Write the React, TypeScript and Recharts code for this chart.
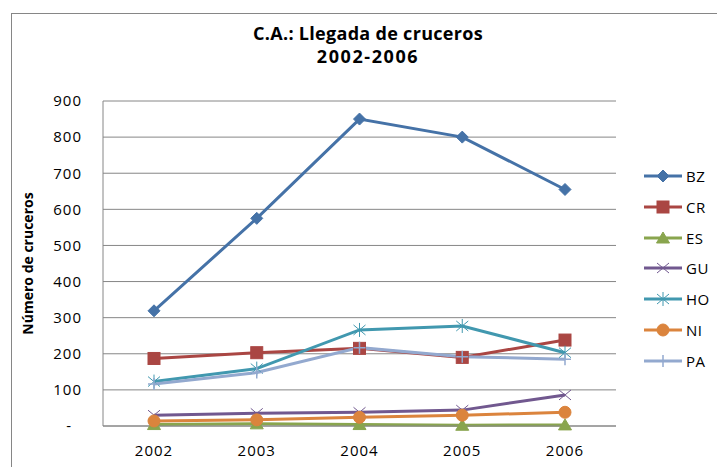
import React from 'react';
import { LineChart, Line, XAxis, YAxis, CartesianGrid } from 'recharts';

const years = ['2002', '2003', '2004', '2005', '2006'];
const BZ = [319, 575, 850, 800, 655];
const CR = [187, 203, 215, 190, 238];
const ES = [4, 6, 4, 2, 3];
const GU = [30, 35, 38, 44, 86];
const HO = [123, 159, 266, 277, 203];
const NI = [14, 17, 24, 30, 38];
const PA = [116, 148, 217, 192, 185];
const yTicks = [0, 100, 200, 300, 400, 500, 600, 700, 800, 900];

const seriesList = [
  { key: 'BZ', values: BZ, color: '#4572A7', marker: 'diamond' },
  { key: 'CR', values: CR, color: '#AA4643', marker: 'square' },
  { key: 'ES', values: ES, color: '#89A54E', marker: 'triangle' },
  { key: 'GU', values: GU, color: '#71588F', marker: 'x' },
  { key: 'HO', values: HO, color: '#4198AF', marker: 'star' },
  { key: 'NI', values: NI, color: '#DB843D', marker: 'circle' },
  { key: 'PA', values: PA, color: '#93A9CF', marker: 'plus' },
];

const data = years.map((y, i) => {
  const row: any = { year: y };
  seriesList.forEach((s) => (row[s.key] = s.values[i]));
  return row;
});

const FONT = '"Open Sans", "DejaVu Sans", sans-serif';

function Marker({ type, cx, cy, color }: { type: string; cx: number; cy: number; color: string }) {
  switch (type) {
    case 'diamond':
      return <path d={`M${cx},${cy - 6}L${cx + 6},${cy}L${cx},${cy + 6}L${cx - 6},${cy}Z`} fill={color} stroke={color} />;
    case 'square':
      return <rect x={cx - 6} y={cy - 6} width={12} height={12} fill={color} stroke={color} />;
    case 'triangle':
      return <path d={`M${cx},${cy - 6}L${cx + 6.5},${cy + 5}L${cx - 6.5},${cy + 5}Z`} fill={color} stroke={color} />;
    case 'x':
      return (
        <path d={`M${cx - 6},${cy - 5}L${cx + 6},${cy + 5}M${cx - 6},${cy + 5}L${cx + 6},${cy - 5}`} stroke={color} strokeWidth={1} fill="none" />
      );
    case 'star':
      return (
        <path
          d={`M${cx - 6},${cy - 5}L${cx + 6},${cy + 5}M${cx - 6},${cy + 5}L${cx + 6},${cy - 5}M${cx},${cy - 7}L${cx},${cy + 7}`}
          stroke={color}
          strokeWidth={1}
          fill="none"
        />
      );
    case 'circle':
      return <circle cx={cx} cy={cy} r={6} fill={color} stroke={color} />;
    case 'plus':
      return <path d={`M${cx},${cy - 6}L${cx},${cy + 6}M${cx - 6},${cy}L${cx + 6},${cy}`} stroke={color} strokeWidth={1.5} fill="none" />;
    default:
      return null;
  }
}

const makeDot = (type: string, color: string) => (props: any) => {
  const { cx, cy, index } = props;
  if (cx == null || cy == null) return <g key={index} />;
  return (
    <g key={`${type}-${index}`}>
      <Marker type={type} cx={cx} cy={cy} color={color} />
    </g>
  );
};

const YTick = (props: any) => {
  const { x, y, payload } = props;
  const v = payload.value;
  return (
    <text
      x={v === 0 ? x - 10 : x}
      y={y}
      dy="0.355em"
      textAnchor="end"
      fontSize={15}
      letterSpacing={1}
      fontFamily={FONT}
      fill="#000"
    >
      {v === 0 ? '-' : v}
    </text>
  );
};

export default function App() {
  return (
    <div style={{ position: 'fixed', left: 0, top: 0, width: 717, height: 467, overflow: 'hidden', background: '#fff' }}>
      <div
        style={{
          position: 'absolute',
          left: 11,
          top: 13,
          width: 900,
          height: 700,
          border: '1px solid #868686',
          boxSizing: 'border-box',
        }}
      />
      <div
        style={{
          position: 'absolute',
          left: 0,
          top: 22,
          width: 736,
          textAlign: 'center',
          fontFamily: FONT,
          fontWeight: 700,
          fontSize: 18,
          lineHeight: '23px',
          color: '#000',
        }}
      >
        <div style={{ letterSpacing: 0.3 }}>C.A.: Llegada de cruceros</div>
        <div style={{ letterSpacing: 1.6 }}>2002-2006</div>
      </div>
      <div style={{ position: 'absolute', left: 0, top: 0 }}>
        <LineChart width={717} height={467} data={data} margin={{ top: 101, right: 101, left: 0, bottom: 11 }}>
          <CartesianGrid vertical={false} stroke="#868686" strokeWidth={1} />
          <XAxis
            dataKey="year"
            height={30}
            padding={{ left: 51, right: 51 }}
            tickLine={false}
            tickSize={0}
            tickMargin={19}
            axisLine={{ stroke: '#868686' }}
            tick={{ fontSize: 15, fontFamily: FONT, fill: '#000', letterSpacing: 1 }}
          />
          <YAxis
            width={103}
            domain={[0, 900]}
            ticks={yTicks}
            interval={0}
            tickLine={false}
            tickSize={0}
            tickMargin={21}
            axisLine={{ stroke: '#868686' }}
            tick={<YTick />}
            label={{
              value: 'Número de cruceros',
              angle: -90,
              position: 'insideLeft',
              offset: 0,
              dx: 28,
              style: { fontSize: 14, fontWeight: 700, fontFamily: FONT, fill: '#000', textAnchor: 'middle' },
            }}
          />
          {seriesList.map((s) => (
            <Line
              key={s.key}
              dataKey={s.key}
              stroke={s.color}
              strokeWidth={3}
              dot={makeDot(s.marker, s.color)}
              activeDot={false}
              isAnimationActive={false}
            />
          ))}
        </LineChart>
      </div>
      {seriesList.map((s, i) => {
        const cy = 176 + i * 30.8;
        return (
          <div key={s.key} style={{ position: 'absolute', left: 640, top: cy - 12, height: 24, width: 80 }}>
            <svg width={46} height={24} style={{ position: 'absolute', left: 0, top: 0 }}>
              <line x1={4} y1={12} x2={42} y2={12} stroke={s.color} strokeWidth={3} />
              <Marker type={s.marker} cx={23} cy={12} color={s.color} />
            </svg>
            <div
              style={{
                position: 'absolute',
                left: 46,
                top: 0,
                lineHeight: '24px',
                fontSize: 15,
                letterSpacing: 0.5,
                fontFamily: FONT,
                color: '#000',
              }}
            >
              {s.key}
            </div>
          </div>
        );
      })}
    </div>
  );
}
